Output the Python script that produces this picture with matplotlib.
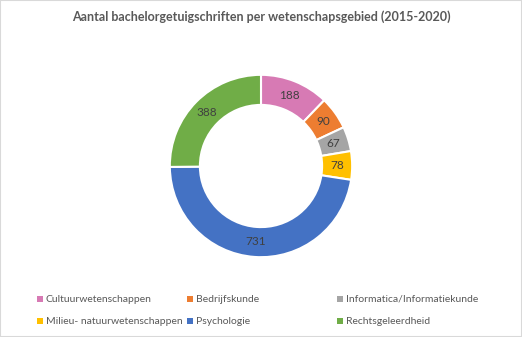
import matplotlib
matplotlib.use('Agg')
import matplotlib.pyplot as plt
from matplotlib.patches import Rectangle

plt.rcParams['font.family'] = ['Lato', 'DejaVu Sans']

# data
categories = ['Cultuurwetenschappen', 'Bedrijfskunde', 'Informatica/Informatiekunde',
              'Milieu- natuurwetenschappen', 'Psychologie', 'Rechtsgeleerdheid']
counts = [188, 90, 67, 78, 731, 388]
colors = ['#D77AB4', '#ED7D31', '#A5A5A5', '#FFC000', '#4472C4', '#70AD47']
title = 'Aantal bachelorgetuigschriften per wetenschapsgebied (2015-2020)'

W, H = 522, 337
fig = plt.figure(figsize=(W / 100, H / 100), dpi=100)
fig.patches.append(Rectangle((0, 0), 1, 1, transform=fig.transFigure,
                             fill=False, edgecolor='#D9D9D9', linewidth=1.5))

# donut axes, centre (261, 166) px, radius 93 px
cx, cy, r = 261, 166, 93
ax = fig.add_axes([(cx - r) / W, (H - cy - r) / H, 2 * r / W, 2 * r / H])
wedges, texts = ax.pie(counts, colors=colors, startangle=90, counterclock=False,
                       radius=1, wedgeprops=dict(width=0.33, edgecolor='white', linewidth=1.5),
                       labels=[str(c) for c in counts], labeldistance=0.835,
                       textprops=dict(color='#404040', fontsize=8.5))
for t in texts:
    t.set_horizontalalignment('center')
    t.set_verticalalignment('center')
ax.set_xlim(-1.02, 1.02)
ax.set_ylim(-1.02, 1.02)
ax.set_aspect('equal')
ax.axis('off')

fig.text(0.5, 1 - 17 / H, title, ha='center', va='center', fontsize=9.0,
         color='#595959', fontweight='bold')

# legend, 3 columns x 2 rows
col_x = [40, 190, 340]
row_y = [299, 321]
for i, (name, col) in enumerate(zip(categories, colors)):
    x = col_x[i % 3]
    y = row_y[i // 3]
    fig.patches.append(Rectangle(((x - 3) / W, (H - y - 3) / H), 6 / W, 6 / H,
                                 transform=fig.transFigure, facecolor=col, edgecolor='none'))
    fig.text((x + 6) / W, 1 - y / H, name, ha='left', va='center', fontsize=7.5,
             color='#595959')

fig.savefig('out.png', dpi=100)
